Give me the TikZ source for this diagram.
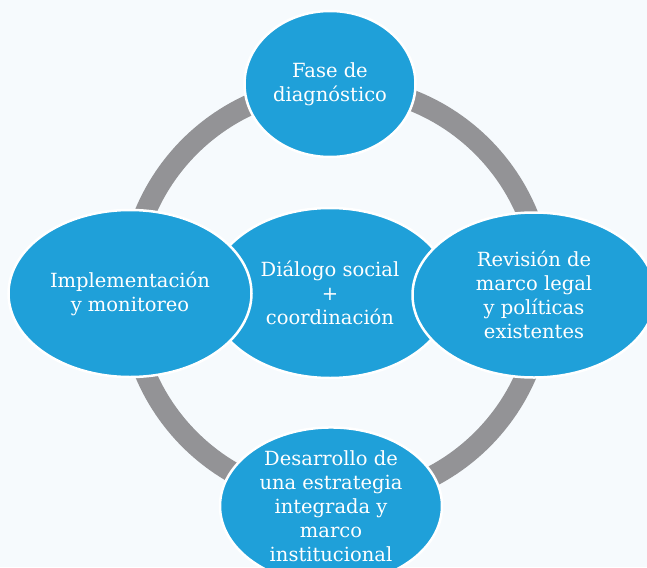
\documentclass[tikz,border=0pt]{standalone}
\usepackage{fontspec}
\setmainfont{DejaVu Serif}
\usetikzlibrary{shapes.geometric}
\definecolor{bgblue}{HTML}{F6FAFD}
\definecolor{cycblue}{HTML}{1FA0D9}
\definecolor{ringgray}{HTML}{939396}
\tikzset{phase/.style={ellipse, fill=cycblue, draw=white, line width=2.5pt, inner sep=0pt,
                       text=white, align=center, font=\fontsize{19.5}{24}\selectfont},
         ring/.style={draw=ringgray, line width=21pt}}

\begin{document}
\begin{tikzpicture}[x=1pt,y=-1pt]
   \useasboundingbox (0,0) rectangle (647,567);
   \clip (0,0) rectangle (647,567);
   \fill[bgblue] (0,0) rectangle (647,567);
   \coordinate (hub) at (336,293);
   \draw[ring] (hub) circle[radius=207];
   \node[phase, minimum width=171pt, minimum height=146pt] (diag) at (330,84)
     {Fase de\\diagnóstico};
   \node[phase, minimum width=222pt, minimum height=156pt] (estr) at (331,506)
     {Desarrollo de\\una estrategia\\integrada y\\marco\\institucional};
   \node[phase, minimum width=242pt, minimum height=170pt] (dial) at (330,293)
     {Diálogo social\\+\\coordinación};
   \node[phase, minimum width=243pt, minimum height=167pt] (impl) at (130,293.5)
     {Implementación\\y monitoreo};
   \node[phase, minimum width=243pt, minimum height=165pt] (revi) at (534,295)
     {Revisión de\\marco legal\\y políticas\\existentes};
\end{tikzpicture}
\end{document}
